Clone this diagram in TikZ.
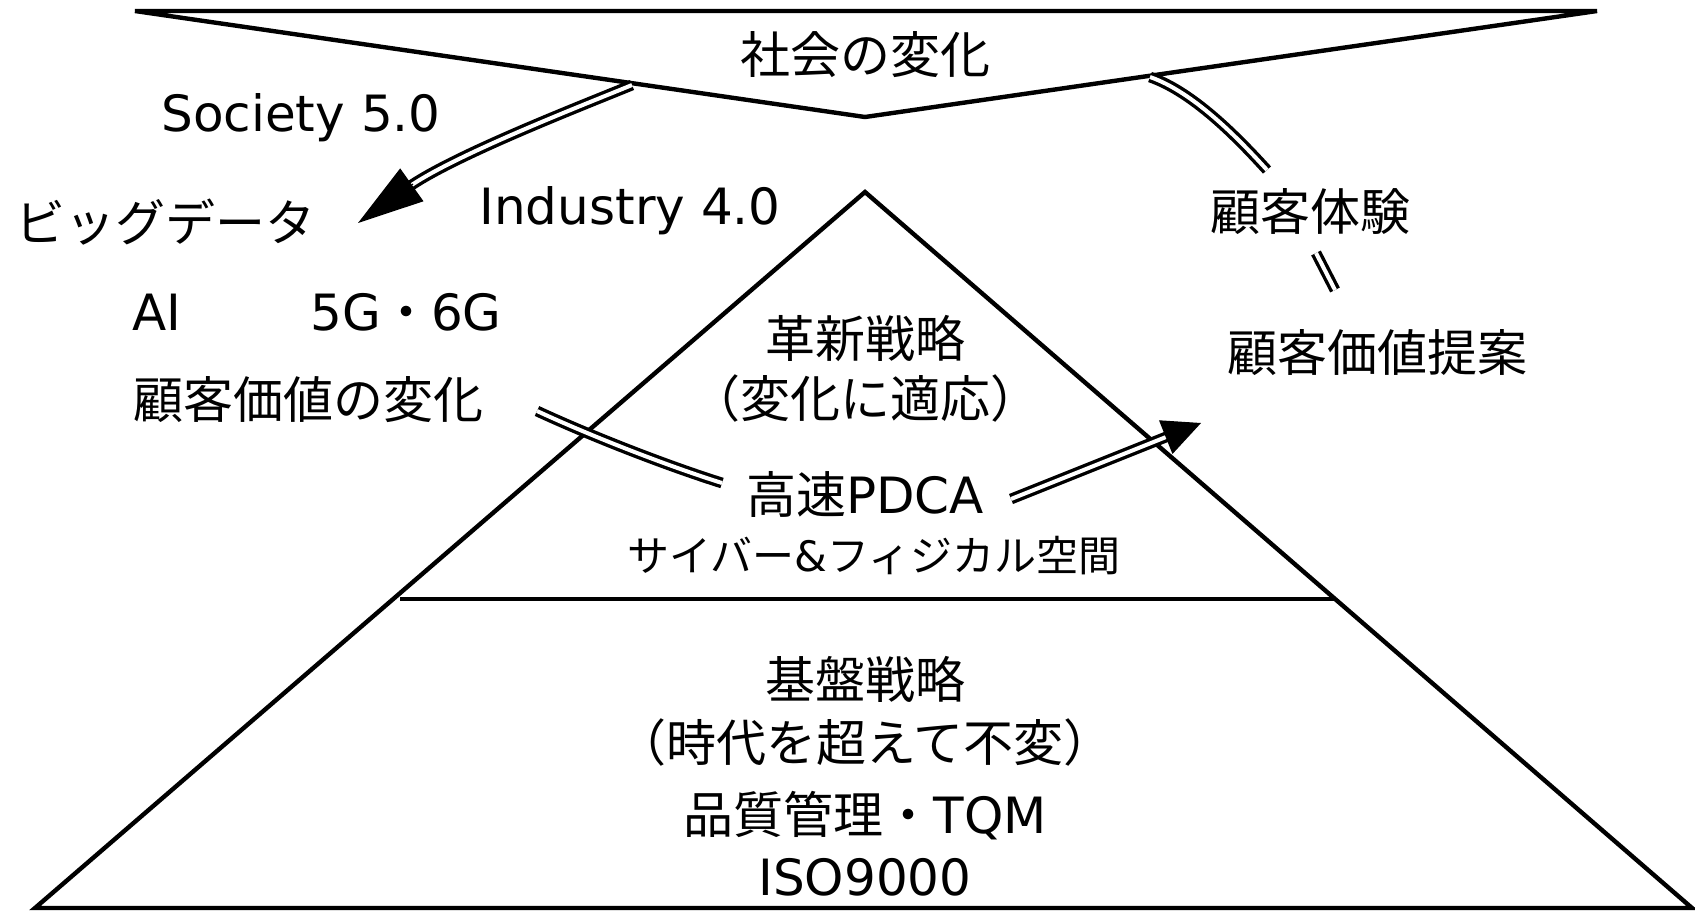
\documentclass[tikz,border=0pt]{standalone}
\usepackage{fontspec}
\setmainfont{DejaVu Sans}
\newfontfamily\jp{Noto Sans CJK JP}
\usetikzlibrary{arrows.meta}
\begin{document}
\begin{tikzpicture}[x=0.5pt,y=-0.5pt,
  frame/.style={line width=2.2pt},
  dbl/.style={double, line width=1.7pt, double distance=2pt},
  lbl/.style={inner sep=0pt, font=\fontsize{25pt}{30pt}\selectfont},
  smalllbl/.style={inner sep=0pt, font=\fontsize{21pt}{25pt}\selectfont},
  tipline/.style={line width=0.6pt},
]
\useasboundingbox (0,0) rectangle (1695,911);
% shapes
\draw[frame] (135,11) -- (1597,11) -- (865,117) -- cycle;
\draw[frame] (865,192) -- (1692,908) -- (35,908) -- cycle;
\draw[frame] (400,599) -- (1336,599);
% labels
\node[lbl] (soc) at (865,55) {\jp 社会の変化};
\node[lbl, anchor=base] (s50) at (301,131) {Society 5.0};
\node[lbl] (big) at (165,222) {\jp ビッグデータ};
\node[lbl, anchor=base] (ind) at (630,224) {Industry 4.0};
\node[lbl, anchor=base] (ai) at (157,330) {AI};
\node[lbl, anchor=base] (g56) at (406,330) {5G{\jp ・}6G};
\node[lbl] (cv) at (308,400) {\jp 顧客価値の変化};
\node[lbl] (kaku) at (865,338) {\jp 革新戦略};
\node[lbl] (teki) at (865,398) {\jp （変化に適応）};
\node[lbl] (pdca) at (865,494) {{\jp 高速}PDCA};
\node[smalllbl] (cyber) at (874,556) {{\jp サイバー}\&{\jp フィジカル空間}};
\node[lbl] (exp) at (1310,212) {\jp 顧客体験};
\node[lbl] (prop) at (1377,353) {\jp 顧客価値提案};
\node[lbl] (kiban) at (865,679) {\jp 基盤戦略};
\node[lbl] (fuhen) at (865,742) {\jp （時代を超えて不変）};
\node[lbl] (tqm) at (865,816) {{\jp 品質管理・}TQM};
\node[lbl, anchor=base] (iso) at (865,895) {ISO9000};
% connector coordinates
\coordinate (a1s) at (632,85);
\coordinate (a1e) at (408,187.5);
\coordinate (a1b) at (413,184);
\coordinate (a1t) at (358,223);
\coordinate (b1s) at (537,411);
\coordinate (b1e) at (722,483);
\coordinate (b2s) at (1011,499);
\coordinate (b2e) at (1171,435);
\coordinate (b2b) at (1166,437);
\coordinate (b2t) at (1201,423);
\coordinate (c1s) at (1150,77);
\coordinate (c1e) at (1267,170);
\coordinate (d1s) at (1316,253);
\coordinate (d1e) at (1335,290);
% connectors
\draw[dbl] (a1s) .. controls (586,104) and (454,155) .. (a1e);
\draw[tipline, -{Triangle[length=33pt,width=20pt]}] (a1b) -- (a1t);
\draw[dbl] (b1s) .. controls (591,436) and (665,465) .. (b1e);
\draw[dbl] (b2s) -- (b2e);
\draw[tipline, -{Triangle[length=19pt,width=18pt]}] (b2b) -- (b2t);
\draw[dbl] (c1s) .. controls (1193,92) and (1237,137) .. (c1e);
\draw[dbl] (d1s) -- (d1e);
\end{tikzpicture}
\end{document}
